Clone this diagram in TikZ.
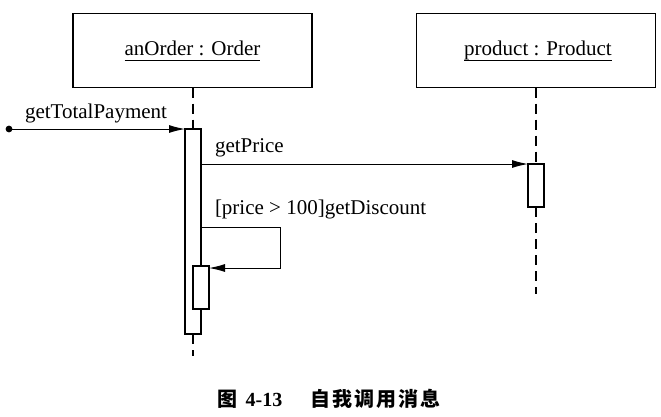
\documentclass[tikz,border=0pt]{standalone}
\usepackage{fontspec}
\setmainfont{Liberation Serif}
\newfontfamily\cjk{Noto Sans CJK SC}
\usetikzlibrary{arrows.meta}
\begin{document}
\begin{tikzpicture}[x=1pt,y=-1pt,
  every node/.style={inner sep=0pt,outer sep=0pt},
  obj/.style={draw,line width=1.2pt,minimum width=239pt,minimum height=74pt},
  actbar/.style={draw,line width=1.2pt,fill=white,minimum width=16pt},
  life/.style={line width=1.2pt,dash pattern=on 10pt off 6pt},
  msg/.style={line width=1pt,-{Latex[length=16pt,width=8pt]}},
  lbl/.style={anchor=base west,font=\fontsize{21}{25}\selectfont},
  uname/.style={font=\fontsize{21}{25}\selectfont}]
\useasboundingbox (0,0) rectangle (661,416);
% objects
\node[obj] (o1) at (192.5,50.5) {};
\node[obj] (o2) at (536,50.5) {};
\node[uname,anchor=base] (t1) at (192.5,55) {anOrder : Order};
\node[uname,anchor=base] (t2) at (538,55) {product : Product};
\draw[line width=0.9pt] ([yshift=-5pt]t1.base west) -- ([yshift=-5pt]t1.base east);
\draw[line width=0.9pt] ([yshift=-5pt]t2.base west) -- ([yshift=-5pt]t2.base east);
% activation bars
\node[actbar,minimum height=205pt] (b1) at (193,231.5) {};
\node[actbar,minimum height=43pt] (b2) at (536,185.5) {};
\coordinate (e1) at (193,356);
\coordinate (e2) at (536,294);
% lifelines
\draw[life] (o1.south -| b1.north) -- (b1.north);
\draw[life] (b1.south) -- (e1);
\draw[life] (o2.south -| b2.north) -- (b2.north);
\draw[life] (b2.south) -- (e2);
% nested bar
\node[actbar,minimum height=43pt] (b3) at (201,287.5) {};
% found message
\coordinate (s) at (9,129);
\fill (s) circle (3.4pt);
\draw[msg] (s) -- (b1.north west);
\node[lbl] at (25,118) {getTotalPayment};
% getPrice
\draw[msg] (b1.east |- b2.north) -- (b2.north west);
\node[lbl] at (215,152) {getPrice};
% self call
\coordinate (c1) at (280,227);
\coordinate (c2) at (280,268);
\draw[msg] (b1.east |- c1) -- (c1) -- (c2) -- (b3.east |- c2);
\node[lbl] at (215,214) {[price > 100]getDiscount};
% caption
\node[anchor=base,font=\fontsize{20}{24}\selectfont] (cap) at (329,406)
  {{\cjk\bfseries 图}\hspace{8pt}{\bfseries 4-13}\hspace{28pt}{\cjk\bfseries 自\hspace{2pt}我\hspace{2pt}调\hspace{2pt}用\hspace{2pt}消\hspace{2pt}息}};
\end{tikzpicture}
\end{document}
